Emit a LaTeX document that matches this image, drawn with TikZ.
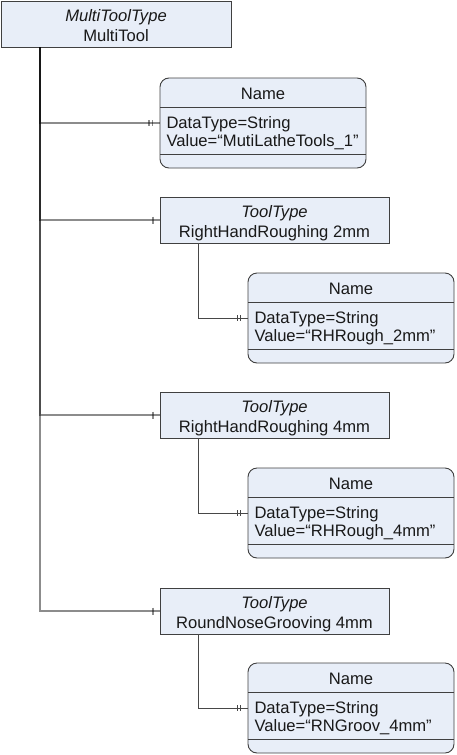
\documentclass[tikz,border=0pt]{standalone}
\usepackage{fontspec}
\setmainfont{Liberation Sans}
\definecolor{boxfill}{RGB}{232,238,248}
\definecolor{boxline}{RGB}{64,64,64}
\tikzset{
  every node/.style={font=\fontsize{16.6}{19}\selectfont, inner sep=0pt, outer sep=0pt, text=black!90},
  typebox/.style={draw=boxline, fill=boxfill, line width=0.9pt, anchor=north west, minimum height=46pt},
  namebox/.style={draw=boxline, fill=boxfill, line width=0.9pt, rounded corners=9pt, anchor=north west, minimum width=206pt, minimum height=90pt},
  sepline/.style={draw=boxline, line width=0.9pt},
  conn/.style={draw=black, draw opacity=0.45, line width=1.1pt},
  innerconn/.style={draw=black!72, line width=0.9pt},
}
\newcommand\TypeBox[6]{%
  \node[typebox, minimum width=#4pt] (#1) at (#2,#3) {};
  \node[anchor=base] (#1-a) at ([yshift=-20pt]#1.north) {\textit{#5}};
  \node[anchor=base] (#1-b) at ([yshift=-40pt]#1.north) {#6};
}
\newcommand\NameBox[4]{%
  \node[namebox] (#1) at (#2,#3) {};
  \draw[sepline] ([yshift=-29pt]#1.north west) -- ([yshift=-29pt]#1.north east);
  \draw[sepline] ([yshift=14pt]#1.south west) -- ([yshift=14pt]#1.south east);
  \node[anchor=base] (#1-h) at ([yshift=-21pt]#1.north) {Name};
  \node[anchor=base west] (#1-d) at ([shift={(6.5pt,-50pt)}]#1.north west) {DataType=String};
  \node[anchor=base west] (#1-v) at ([shift={(6.5pt,-68pt)}]#1.north west) {Value=“#4”};
}
\newcommand\OneTick[2]{%
  \draw[#2] ([shift={(-7pt,3.5pt)}]#1.west) -- ([shift={(-7pt,-3.5pt)}]#1.west);}
\newcommand\TwoTick[2]{%
  \draw[#2] ([shift={(-11pt,3pt)}]#1.west) -- ([shift={(-11pt,-3pt)}]#1.west);
  \draw[#2] ([shift={(-7.5pt,3pt)}]#1.west) -- ([shift={(-7.5pt,-3pt)}]#1.west);}
\begin{document}
\begin{tikzpicture}[x=1pt,y=-1pt]
\useasboundingbox (0,0) rectangle (457,755);
\TypeBox{mt}{1}{1}{230}{MultiToolType}{MultiTool}
\NameBox{n1}{160}{78}{MutiLatheTools\_1}
\TypeBox{t1}{160}{197}{229}{ToolType}{RightHandRoughing 2mm}
\NameBox{n2}{248}{273}{RHRough\_2mm}
\TypeBox{t2}{160}{392}{229}{ToolType}{RightHandRoughing 4mm}
\NameBox{n3}{248}{468}{RHRough\_4mm}
\TypeBox{t3}{160}{588}{229}{ToolType}{RoundNoseGrooving 4mm}
\NameBox{n4}{248}{663}{RNGroov\_4mm}
% outer connectors
\draw[conn] ([xshift=39pt]mt.south west) |- (n1.west);
\draw[conn] ([xshift=39pt]mt.south west) |- (t1.west);
\draw[conn] ([xshift=39pt]mt.south west) |- (t2.west);
\draw[conn] ([xshift=39pt]mt.south west) |- (t3.west);
\TwoTick{n1}{conn}
\OneTick{t1}{conn}
\OneTick{t2}{conn}
\OneTick{t3}{conn}
% inner connectors
\draw[innerconn] ([xshift=38pt]t1.south west) |- (n2.west);
\draw[innerconn] ([xshift=38pt]t2.south west) |- (n3.west);
\draw[innerconn] ([xshift=38pt]t3.south west) |- (n4.west);
\TwoTick{n2}{innerconn}
\TwoTick{n3}{innerconn}
\TwoTick{n4}{innerconn}
\end{tikzpicture}
\end{document}
